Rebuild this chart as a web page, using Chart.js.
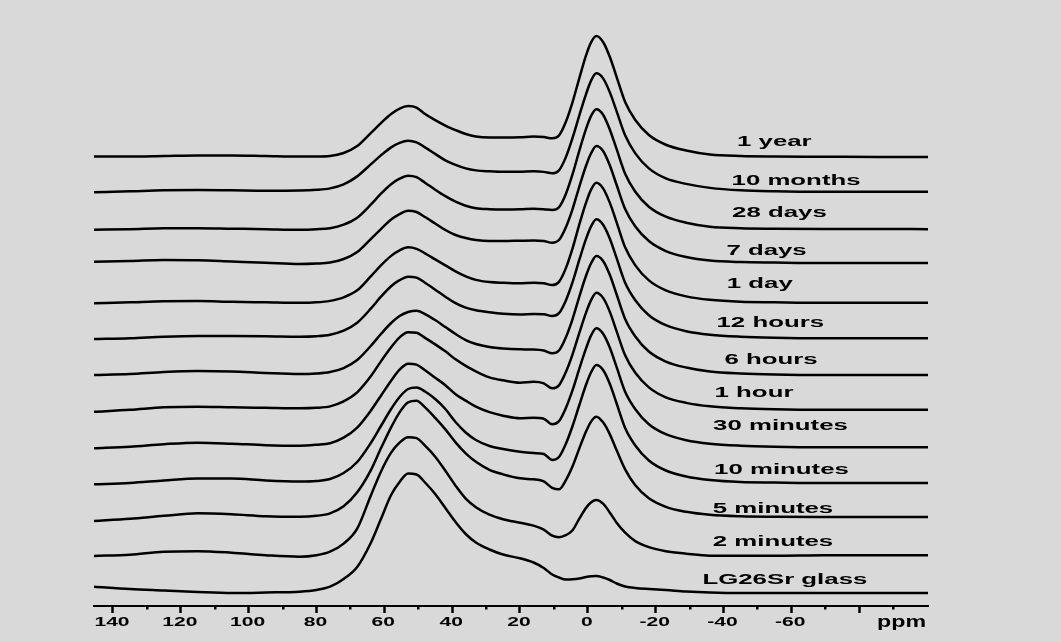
<!DOCTYPE html>
<html>
<head>
<meta charset="utf-8">
<script src="https://cdn.jsdelivr.net/npm/chart.js@4.4.0/dist/chart.umd.min.js"></script>
<style>
  html, body { margin: 0; padding: 0; background: #d9d9d9; }
  #wrap { width: 1061px; height: 642px; position: relative; }
</style>
</head>
<body>
<div id="wrap"><canvas id="c"></canvas></div>
<script>
// ---- data (chemical shift in ppm, intensity above each trace's baseline) ----
const PPM = [145.6, 135, 125, 115, 105, 95, 85, 80, 76, 72, 68, 64, 61, 58, 55.5, 53,
  50.5, 48, 45, 42, 39, 36, 33, 29, 25, 20, 16, 13, 10.5, 8.5, 6.5, 4.5,
  2.5, 0.5, -1, -2.5, -4.5, -6.5, -8.5, -11, -14, -18, -23, -29, -36, -45, -55, -70, -85, -100.3];

const Y_1YEAR = [0.5, 0.5, 1, 1.5, 1.5, 1, 0.5, 0.5, 1, 4, 11, 24, 34, 43, 48.5, 51,
  49.5, 43, 37, 31.5, 27, 23, 20.5, 19.5, 19.5, 19.7, 20.5, 20, 18.7, 21.5, 35, 55,
  79, 102, 115, 121, 115, 100, 80, 55, 37, 22, 12.3, 6.5, 2.5, 1, 0.5, 0.3, 0, 0];
const Y_10MONTHS = [1, 2, 3, 3.3, 3, 2.6, 2.8, 3.5, 5, 9, 17, 29, 38, 46, 50.5, 52.6,
  51, 46, 39.5, 33, 28.5, 25, 23, 22, 21.5, 21.6, 22, 21.5, 20, 23, 36, 55.5,
  78, 99.5, 113, 120, 115, 101, 82, 58, 40, 25, 15, 9.5, 5.5, 3, 2, 1.5, 1.5, 1.5];
const Y_28DAYS = [0, 0.5, 1.4, 1.5, 1, 0.5, 0, 0.5, 1.5, 5, 12, 25, 36, 45.5, 51, 54,
  52.5, 47, 40, 33.5, 28, 24, 21.5, 20.5, 20.2, 20.4, 21, 20.5, 19.7, 22.5, 35.5, 55.5,
  79, 101, 114, 120.4, 115, 100, 80.5, 56, 38, 23, 13, 7, 3, 1.5, 1, 0.7, 0.7, 0.5];
const Y_7DAYS = [4.3, 5, 6, 5.7, 4.5, 3.3, 2, 2.5, 3.5, 7, 14, 27, 37, 46.5, 52, 55.3,
  54, 49, 42.5, 36, 31, 28, 26, 25, 25, 25.3, 25.5, 25, 23.3, 26, 38.5, 57,
  79.5, 100.5, 113, 120, 115, 100.5, 81, 57, 39.5, 25, 15, 9, 5.5, 4, 3.5, 3, 3, 3];
const Y_1DAY = [-1, 0, 1, 1.3, 0.5, 0, -0.5, 0, 1.5, 5, 12, 26, 37, 46.5, 52, 55,
  53.5, 49, 43, 37, 31, 26, 22.5, 20.3, 19.5, 19, 19.5, 19, 17.3, 20.5, 34, 54,
  78, 100, 113, 119.6, 114, 99.5, 80, 55, 37, 22, 12, 6, 2.5, 0.5, 0, -0.5, -0.5, -0.5];
const Y_12HOURS = [-0.3, 0.5, 2, 2.7, 2.7, 2.5, 2, 2.5, 4, 8, 16, 30, 42, 52.5, 58.5, 62,
  61, 56, 49, 42, 35.5, 31, 28.5, 26.5, 25, 24.2, 24.7, 24.5, 22.7, 25.5, 38, 56.5,
  79, 100, 112.5, 119.4, 114, 100, 80.5, 56, 38.5, 23.5, 13.5, 7.5, 4, 2, 1, 0.5, 0.5, 0.5];
const Y_6HOURS = [0, 1, 3, 4, 3.5, 2, 1, 1.5, 3, 7, 15, 29, 41, 52, 59, 63,
  64.3, 61, 55, 48, 41, 35, 31, 28, 26.5, 25.7, 25.5, 24.5, 21.7, 24.5, 37.5, 56,
  78.5, 99.5, 112, 119, 114, 100, 80.5, 56, 38.5, 23.5, 13.5, 7.5, 3.5, 1.5, 0.5, 0, 0, 0];
const Y_1HOUR = [-0.4, 1.5, 4, 4.6, 4, 3.5, 3, 3.5, 5, 10, 19, 35, 50, 64, 74, 79,
  78.5, 73.5, 67, 60, 52, 45.5, 40, 34, 31, 28.6, 29.5, 28, 23, 26, 39, 57,
  78.5, 99, 111.5, 118.6, 113.5, 99.5, 80, 56, 38.5, 24, 14, 8.5, 5, 3, 2, 1.5, 1.5, 1.5];
const Y_30MIN = [-0.6, 1, 3.5, 5, 4, 2.5, 2, 3, 4.5, 10, 20, 37, 52, 67, 78, 84,
  83, 77.5, 70, 62.5, 53.5, 47, 41, 35.5, 32, 29.4, 30, 29, 23.4, 26.5, 39.5, 57.5,
  79, 99.5, 112.5, 119.4, 114, 100, 80.5, 56, 38.5, 23.5, 13.5, 7.5, 4, 2, 1, 0.5, 0.5, 0.5];
const Y_10MIN = [-0.3, 1, 3.5, 5.5, 5.5, 3.5, 2.5, 3, 5, 11, 22, 41, 58, 75, 87, 95,
  96.5, 92.5, 85, 75, 62, 51.5, 44, 38, 35, 32.3, 31, 30, 24, 27, 40, 58,
  79, 99.5, 112, 119, 114, 100, 80.5, 56, 38.5, 23.5, 13.5, 7.5, 4, 2, 1.5, 1, 1, 1];
const Y_5MIN = [-0.7, 1.5, 4.5, 7, 6, 4, 3.5, 4.5, 7, 14, 28, 50, 72, 93, 108, 118,
  119.5, 113, 102.5, 91, 78, 67, 58.5, 50.5, 46, 42, 41, 39, 32.5, 31, 40, 54,
  72, 89, 99, 103.6, 98, 86, 70, 51, 35, 22, 13.5, 8.5, 5.5, 4, 3.5, 3.3, 3.3, 3.3];
const Y_2MIN = [0.7, 2, 5, 5.5, 4, 1.5, 0, 1.5, 5, 13, 28, 61, 85, 104, 114, 119.5,
  118.5, 111, 100, 86, 71, 58, 49.5, 42, 37.5, 34, 31, 27, 21, 19.5, 21.5, 26.5,
  38, 49, 54.5, 56.7, 53, 44, 34, 24, 15.5, 9.5, 5.5, 3, 1, 1, 1, 1.5, 1.5, 1.5];
const Y_GLASS = [6.3, 4, 2.5, 1, 0, 0.5, 1.3, 3, 6.3, 14, 26, 50, 74, 98, 111, 119.5,
  118.5, 110.5, 99, 85, 71, 59, 50.5, 43.5, 38.5, 34.7, 30.5, 25, 18.5, 15.5, 13.5, 13.7,
  14.5, 16, 16.7, 17, 15.5, 13, 9.5, 6.5, 5, 4, 3, 1.5, 0.5, 0, 0, 0, 0, 0];

// top trace first
const SERIES = [Y_1YEAR, Y_10MONTHS, Y_28DAYS, Y_7DAYS, Y_1DAY, Y_12HOURS, Y_6HOURS,
  Y_1HOUR, Y_30MIN, Y_10MIN, Y_5MIN, Y_2MIN, Y_GLASS];
const LABELS = ['1 year', '10 months', '28 days', '7 days', '1 day', '12 hours', '6 hours',
  '1 hour', '30 minutes', '10 minutes', '5 minutes', '2 minutes', 'LG26Sr glass'];

const TICK_VALUES = [140, 120, 100, 80, 60, 40, 20, 0, -20, -40, -60];
const TICK_LABELS = ['140', '120', '100', '80', '60', '40', '20', '0', '-20', '-40', '-60'];
const EXTRA_MAJOR = [-80];
const MINOR_TICKS = [130, 110, 90, 70, 50, 30, 10, -10, -30, -50, -70, -90];
const UNIT_LABEL = 'ppm';

// ---- layout / style (not data) ----
const STEP = 36.33;       // vertical stacking step between spectra
const BOTTOM_BASE = 13;   // baseline of the lowest spectrum
const LABEL_PPM = [-55.0, -61.4, -56.5, -52.7, -50.7, -53.8, -54, -49, -56.8, -57.1, -54.6, -54.6, -58.1];
const LABEL_DY = [11.4, 8.3, 13, 11, 14.3, 12, 11, 14.6, 17.7, 10, 7.3, 10.7, 9];
const N = SERIES.length;
const baseOf = k => BOTTOM_BASE + (N - 1 - k) * STEP;

const datasets = SERIES.map((vals, k) => ({
  label: LABELS[k],
  data: PPM.map((x, j) => ({ x: x, y: baseOf(k) + vals[j] })),
  borderColor: '#000',
  borderWidth: 2.5,
  pointRadius: 0,
  fill: false,
  cubicInterpolationMode: 'monotone'
}));

const FONT = '"Liberation Sans", Arial, sans-serif';

const decor = {
  id: 'decor',
  beforeDraw(chart) {
    const ctx = chart.ctx;
    ctx.save();
    ctx.fillStyle = '#d9d9d9';
    ctx.fillRect(0, 0, chart.width, chart.height);
    ctx.restore();
  },
  afterDraw(chart) {
    const ctx = chart.ctx;
    const xs = chart.scales.x, ys = chart.scales.y;
    const bottom = chart.chartArea.bottom;
    ctx.save();
    ctx.fillStyle = '#000';
    // minor ticks
    MINOR_TICKS.forEach(v => {
      const x = xs.getPixelForValue(v);
      ctx.fillRect(Math.round(x) - 1, bottom, 2.5, 3.5);
    });
    // tick labels (stretched horizontally like the original)
    ctx.font = 'bold 13px ' + FONT;
    ctx.textAlign = 'center';
    ctx.textBaseline = 'alphabetic';
    TICK_VALUES.forEach((v, i) => {
      const x = xs.getPixelForValue(v);
      ctx.save();
      ctx.translate(x - 1, bottom + 20);
      ctx.scale(1.62, 1);
      ctx.fillText(TICK_LABELS[i], 0, 0);
      ctx.restore();
    });
    ctx.save();
    ctx.font = 'bold 16px ' + FONT;
    ctx.translate(xs.getPixelForValue(-92.5), bottom + 20.5);
    ctx.scale(1.45, 1);
    ctx.fillText(UNIT_LABEL, 0, 0);
    ctx.restore();
    // spectrum labels
    ctx.font = 'bold 15px ' + FONT;
    LABELS.forEach((t, k) => {
      const x = xs.getPixelForValue(LABEL_PPM[k]);
      const y = ys.getPixelForValue(baseOf(k) + LABEL_DY[k]);
      ctx.save();
      ctx.translate(x, y);
      ctx.scale(1.72, 1);
      ctx.fillText(t, 0, 0);
      ctx.restore();
    });
    ctx.restore();
  }
};

new Chart(document.getElementById('c'), {
  type: 'line',
  data: { datasets: datasets },
  options: {
    responsive: true,
    maintainAspectRatio: false,
    animation: false,
    events: [],
    layout: { padding: { left: 94, right: 133, top: 20, bottom: 0 } },
    plugins: { legend: { display: false }, tooltip: { enabled: false }, title: { display: false } },
    scales: {
      x: {
        type: 'linear',
        reverse: true,
        min: -100.3,
        max: 145.6,
        position: 'bottom',
        afterBuildTicks: (scale) => {
          scale.ticks = TICK_VALUES.concat(EXTRA_MAJOR).map(v => ({ value: v }));
        },
        afterFit: (scale) => { scale.height = 36; },
        ticks: { display: false },
        grid: { drawOnChartArea: false, drawTicks: true, tickLength: 7, tickWidth: 2.5, tickColor: '#000' },
        border: { display: true, color: '#000', width: 2 }
      },
      y: {
        type: 'linear',
        display: false,
        min: 0,
        max: 586
      }
    }
  },
  plugins: [decor]
});
</script>
</body>
</html>
